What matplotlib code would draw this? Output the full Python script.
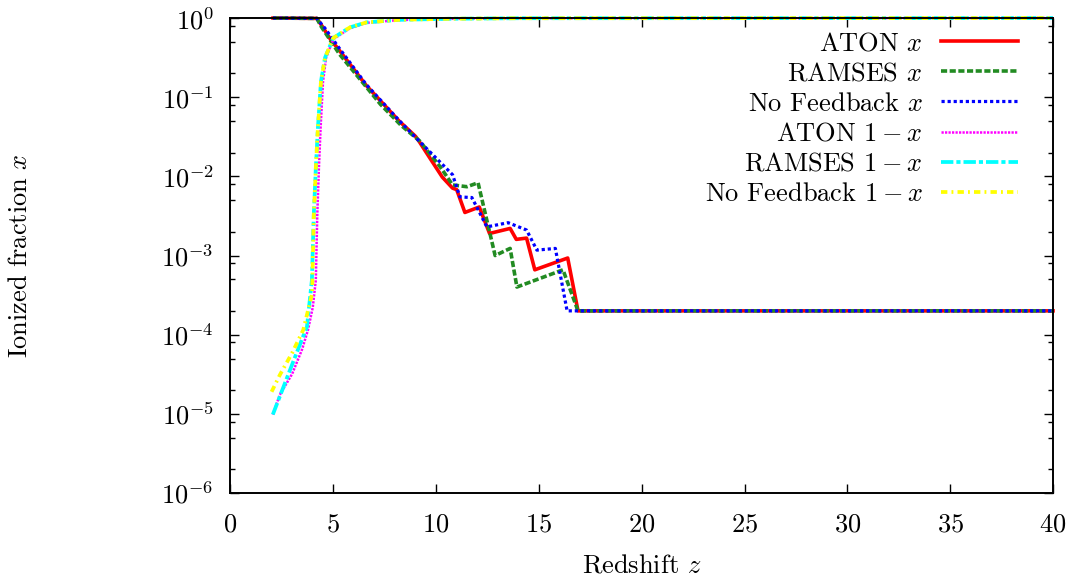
import matplotlib
matplotlib.use("Agg")
import matplotlib.pyplot as plt
import numpy as np
from matplotlib.ticker import LogLocator, MultipleLocator, NullFormatter

plt.rcParams["font.family"] = "cmr10"
plt.rcParams["mathtext.fontset"] = "cm"
plt.rcParams["axes.formatter.use_mathtext"] = True
plt.rcParams["axes.unicode_minus"] = False

# ionized fraction x
aton_z = [2.07, 4.2, 4.5, 4.9, 5.2, 6.6, 8.2, 9.0, 9.2, 9.7, 10.3, 10.8, 11.0,
          11.4, 12.1, 12.6, 13.6, 13.9, 14.4, 14.8, 16.4, 16.9, 40.0]
aton_x = [1.0, 0.99, 0.76, 0.52, 0.42, 0.141, 0.050, 0.032, 0.027, 0.017,
          0.0098, 0.0071, 0.0068, 0.0035, 0.0041, 0.0019, 0.0022, 0.0016,
          0.00166, 0.00066, 0.00093, 0.0002, 0.0002]

ramses_z = [2.07, 4.2, 4.4, 5.3, 7.3, 8.3, 9.2, 10.2, 10.8, 11.5, 12.04, 12.87,
            13.6, 13.93, 16.17, 16.9, 40.0]
ramses_x = [1.0, 0.99, 0.79, 0.35, 0.081, 0.044, 0.028, 0.0132, 0.0078,
            0.0074, 0.0083, 0.0010, 0.00123, 0.00040, 0.00066, 0.0002, 0.0002]

nofb_z = [2.07, 4.2, 4.6, 5.25, 6.6, 8.2, 9.2, 9.7, 10.8, 11.16, 11.74, 12.47,
          13.5, 14.4, 14.9, 15.8, 16.37, 40.0]
nofb_x = [1.0, 0.99, 0.74, 0.43, 0.145, 0.051, 0.0275, 0.0204, 0.0105, 0.0055,
          0.0054, 0.0023, 0.0026, 0.0021, 0.00117, 0.00123, 0.0002, 0.0002]

# neutral fraction 1 - x
aton_nz = [2.06, 2.4, 3.0, 3.48, 3.77, 4.0, 4.15, 4.22, 4.3, 4.38, 4.5, 4.65,
           5.0, 5.8, 6.6, 8.2, 10.7, 14.0, 40.0]
aton_n = [9.8e-6, 1.74e-5, 3.2e-5, 6.5e-5, 1.15e-4, 2.2e-4, 4.9e-4, 3.2e-3,
          1.26e-2, 4.0e-2, 0.158, 0.316, 0.54, 0.74, 0.87, 0.944, 0.977, 0.993,
          1.0]

ramses_nz = [2.06, 2.65, 3.23, 3.72, 3.96, 4.05, 4.15, 4.25, 4.4, 4.6, 5.0,
             5.8, 6.6, 8.2, 10.7, 14.0, 40.0]
ramses_n = [9.8e-6, 2.45e-5, 6.0e-5, 1.26e-4, 4.9e-4, 3.2e-3, 1.26e-2,
            4.0e-2, 0.158, 0.316, 0.56, 0.76, 0.88, 0.95, 0.98, 0.995, 1.0]

nofb_nz = [2.0, 2.4, 3.0, 3.54, 3.97, 4.05, 4.15, 4.25, 4.4, 4.6, 5.0, 5.8,
           6.6, 8.2, 10.7, 14.0, 40.0]
nofb_n = [1.9e-5, 3.1e-5, 5.9e-5, 1.15e-4, 3.3e-4, 3.2e-3, 1.26e-2, 4.0e-2,
          0.158, 0.316, 0.56, 0.76, 0.88, 0.95, 0.98, 0.995, 1.0]

series = [
    (aton_z, aton_x, r"ATON $x$", "#ff0000", 2.6, None),
    (ramses_z, ramses_x, r"RAMSES $x$", "#228b22", 2.6, (1.7, 0.7)),
    (nofb_z, nofb_x, r"No Feedback $x$", "#0000ff", 2.3, (1.0, 0.9)),
    (aton_nz, aton_n, r"ATON $1-x$", "#ff00ff", 1.8, (0.9, 0.5)),
    (ramses_nz, ramses_n, r"RAMSES $1-x$", "#00ffff", 2.7, (3.3, 0.8, 1.1, 0.8)),
    (nofb_nz, nofb_n, r"No Feedback $1-x$", "#ffff00", 2.7, (1.7, 1.1, 0.5, 1.1)),
]

FS = 19

fig = plt.figure(figsize=(10.78, 5.84), dpi=100)
ax = fig.add_axes([0.2138, 0.1558, 0.763, 0.8133])

for z, y, label, color, lw, dashes in series:
    line, = ax.plot(z, y, color=color, lw=lw, label=label, clip_on=False)
    if dashes is not None:
        line.set_dashes(dashes)

ax.set_yscale("log")
ax.set_xlim(0, 40)
ax.set_ylim(1e-6, 1)
ax.xaxis.set_major_locator(MultipleLocator(5))
ax.yaxis.set_major_locator(LogLocator(base=10, numticks=10))
ax.yaxis.set_minor_locator(LogLocator(base=10, subs=[2, 5, 8], numticks=20))
ax.yaxis.set_minor_formatter(NullFormatter())
ax.xaxis.offsetText.set_visible(False)
ax.yaxis.offsetText.set_visible(False)

ax.tick_params(which="both", direction="in", top=True, right=True,
               labelsize=FS, width=1.0)
ax.tick_params(which="major", length=6.5)
ax.tick_params(which="minor", length=3.6)
ax.tick_params(axis="x", pad=14)
ax.tick_params(axis="y", pad=12)
for spine in ax.spines.values():
    spine.set_linewidth(1.4)

ax.set_xlabel(r"Redshift $z$", fontsize=FS, va="center")
ax.set_ylabel(r"Ionized fraction $x$", fontsize=FS, va="center")
ax.xaxis.set_label_coords(0.5, -0.152)
ax.yaxis.set_label_coords(-0.256, 0.5)

ax.legend(loc="upper right", bbox_to_anchor=(0.957, 0.971), frameon=False,
          markerfirst=False, fontsize=FS, handlelength=2.9,
          handletextpad=0.7, labelspacing=0.24, borderpad=0,
          borderaxespad=0)

fig.savefig("out.png", dpi=100)
